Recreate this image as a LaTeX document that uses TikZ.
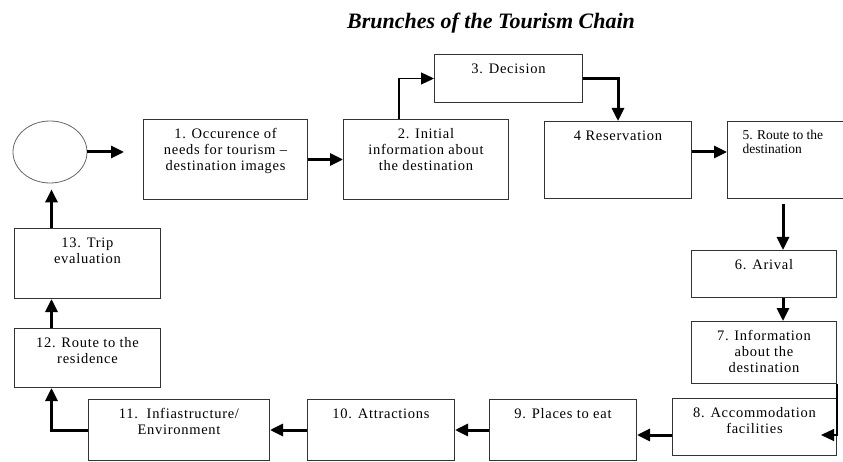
\documentclass[tikz,border=0pt]{standalone}
\usepackage{fontspec}
\setmainfont{Liberation Serif}
\usetikzlibrary{arrows.meta, shapes.geometric}
\newcommand{\boxfont}{\fontsize{14.5}{16}\selectfont\addfontfeatures{LetterSpace=5}}
\newcommand{\stagetext}[3]{\parbox[c][#2][t]{#1}{\centering\boxfont\rule{0pt}{19pt}#3}}
\tikzset{
  every picture/.style={x=1pt, y=-1pt},
  stage/.style={draw=black!80, line width=1pt, inner sep=0pt, anchor=north west},
  arrow/.style={-{Triangle[length=13pt, width=12pt]}, line width=3pt},
  link/.style={-{Triangle[length=13pt, width=12pt]}, line width=1.2pt},
  title/.style={font=\fontsize{22}{24}\selectfont\bfseries\itshape},
}

\begin{document}
\begin{tikzpicture}
  \useasboundingbox (0,0) rectangle (843,462);
  \node[title] (head) at (491,23) {Brunches of the Tourism Chain};
  \node[ellipse, draw=black!60, line width=0.8pt, minimum width=74pt, minimum height=62pt, inner sep=0pt] (home) at (50,152) {};
  % top row
  \node[stage] (b1) at (143,119) {\stagetext{164pt}{80pt}{1. Occurence of\\ needs for tourism –\\ destination images}};
  \node[stage] (b2) at (343,119) {\stagetext{165pt}{80pt}{2. Initial\\ information about\\ the destination}};
  \node[stage] (b3) at (434,54)  {\stagetext{148pt}{48pt}{3. Decision}};
  \node[stage] (b4) at (544,121) {\stagetext{147pt}{77pt}{4 Reservation}};
  \node[stage] (b5) at (727,121) {\parbox[c][77pt][t]{140pt}{\raggedright\leftskip=15pt\fontsize{13.5}{14}\selectfont\rule{0pt}{18pt}5. Route to the\\ destination}};
  % right column
  \node[stage] (b6) at (691,250) {\stagetext{145pt}{47pt}{6. Arival}};
  \node[stage] (b7) at (691,321) {\stagetext{145pt}{62pt}{7. Information\\ about the\\ destination}};
  \node[stage] (b8) at (672,398) {\stagetext{164pt}{57pt}{8. Accommodation\\ facilities}};
  % bottom row
  \node[stage] (b9)  at (489,399) {\stagetext{147pt}{61pt}{9. Places to eat}};
  \node[stage] (b10) at (307,399) {\stagetext{147pt}{61pt}{10. Attractions}};
  \node[stage] (b11) at (88,399)  {\stagetext{181pt}{61pt}{11.\ \ Infiastructure/\\ Environment}};
  % left column
  \node[stage] (b12) at (14,328) {\stagetext{146pt}{59pt}{12. Route to the\\ residence}};
  \node[stage] (b13) at (14,228) {\stagetext{146pt}{70pt}{13. Trip\\ evaluation}};
  \coordinate (ret) at ([xshift=-16pt, yshift=-8pt]b8.east);

  \draw[arrow, shorten >=19pt] (home.east) -- (home.east -| b1.west);
  \draw[arrow] (b1.east) -- (b2.west);
  \draw[link] ([xshift=-27pt]b2.north) |- (b3.west);
  \draw[arrow] (b3.east) -| (b4.north);
  \draw[arrow] ([yshift=8pt]b4.east) -- ([yshift=8pt]b4.east -| b5.west);
  \draw[arrow] ([xshift=19pt, yshift=-5pt]b6.north |- b5.south) -- ([xshift=19pt]b6.north);
  \draw[arrow] ([xshift=19pt]b6.south) -- ([xshift=19pt]b7.north);
  \draw[link] (b7.south east) |- (ret);
  \draw[arrow] ([yshift=-8pt]b8.west) -- ([yshift=-8pt]b8.west -| b9.east);
  \draw[arrow] (b9.west) -- (b10.east);
  \draw[arrow] (b10.west) -- (b11.east);
  \draw[arrow] (b11.west) -| ([xshift=-36pt]b12.south);
  \draw[arrow] ([xshift=-36pt]b12.north) -- ([xshift=-36pt]b13.south);
  \draw[arrow, shorten >=6pt] ([xshift=-36pt]b13.north) -- ([xshift=-36pt]b13.north |- home.south);
\end{tikzpicture}
\end{document}
